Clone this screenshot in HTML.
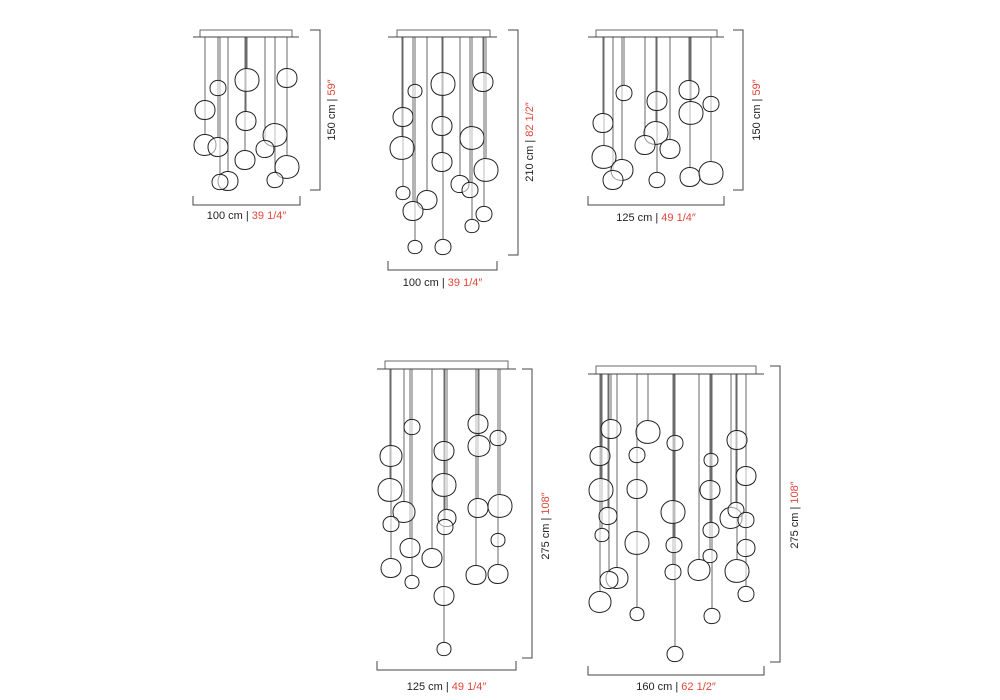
<!DOCTYPE html><html><head><style>
html,body{margin:0;padding:0;background:#fff;width:1000px;height:700px;overflow:hidden}
svg{display:block}
text{font-family:"Liberation Sans",sans-serif;font-size:11px;fill:#222}
.r{fill:#e0473a}
</style></head><body>
<svg id="s" width="1000" height="700" xmlns="http://www.w3.org/2000/svg"></svg>
<script>
var s=document.getElementById('s'),h='';
function fig(cx1,cx2,cy,px1,px2,py,bx,by1,by2,bb,lx1,lx2,ly,labH,labHr,vx,vy,vlab,vlabr,balls){
 h+='<rect x="'+cx1+'" y="'+cy+'" width="'+(cx2-cx1)+'" height="'+(py-cy)+'" fill="none" stroke="#444" stroke-width="0.8"/>';
 h+='<line x1="'+px1+'" y1="'+py+'" x2="'+px2+'" y2="'+py+'" stroke="#444" stroke-width="1"/>';
 var seen={};
 balls.forEach(function(b){
  var k=b[0];
  if(seen[k]!==undefined && seen[k]>=b[1]-b[2]) return;
  seen[k]=b[1]-b[2];
 });
 for(var k in seen){
  h+='<line x1="'+k+'" y1="'+py+'" x2="'+k+'" y2="'+seen[k]+'" stroke="#444" stroke-width="0.8"/>';
 }
 balls.forEach(function(b){
  var x=b[0],y=b[1],r=b[2],c=r*0.56;
  var rx=r*1.0,ry=r*0.95;
  h+='<path d="M'+(x-rx)+','+y+' C'+(x-rx)+','+(y-ry*0.6)+' '+(x-rx*0.5)+','+(y-ry*1.05)+' '+(x+rx*0.05)+','+(y-ry)+' C'+(x+rx*0.7)+','+(y-ry*0.95)+' '+(x+rx*1.02)+','+(y-ry*0.5)+' '+(x+rx)+','+(y+ry*0.05)+' C'+(x+rx*0.98)+','+(y+ry*0.7)+' '+(x+rx*0.5)+','+(y+ry)+' '+(x-rx*0.05)+','+(y+ry)+' C'+(x-rx*0.65)+','+(y+ry)+' '+(x-rx)+','+(y+ry*0.6)+' '+(x-rx)+','+y+' Z" fill="#fff" fill-opacity="0.55" stroke="#222" stroke-width="1"/>';
 });
 h+='<polyline points="'+(bx-10)+','+by1+' '+bx+','+by1+' '+bx+','+by2+' '+(bx-10)+','+by2+'" fill="none" stroke="#444" stroke-width="1"/>';
 h+='<polyline points="'+lx1+','+(bb-9)+' '+lx1+','+bb+' '+lx2+','+bb+' '+lx2+','+(bb-9)+'" fill="none" stroke="#444" stroke-width="1"/>';
 h+='<text x="'+((lx1+lx2)/2)+'" y="'+ly+'" text-anchor="middle">'+labH+' | <tspan class="r">'+labHr+'</tspan></text>';
 h+='<text transform="translate('+vx+','+vy+') rotate(-90)" text-anchor="middle">'+vlab+' | <tspan class="r">'+vlabr+'</tspan></text>';
}
fig(200,292,30,193,299,37,320,30,190,205,193,300,219,'100 cm','39 1/4″',335,110,'150 cm','59″',
[[218,88,8],[247,80,12],[287,78,10],[205,110,10],[246,121,10],[205,145,11],[218,147,10],[275,135,12],[265,149,9],[245,160,10],[287,167,12],[228,181,10],[220,182,8],[275,180,8]]);
fig(397,490,30,388,497,37,518,30,255,270,388,497,286,'100 cm','39 1/4″',533,142,'210 cm','82 1/2″',
[[415,91,7],[443,84,12],[483,82,10],[403,117,10],[442,126,10],[402,148,12],[472,138,12],[442,162,10],[486,170,12],[460,184,9],[403,193,7],[427,200,10],[413,211,10],[470,190,8],[484,214,8],[472,226,7],[415,247,7],[443,247,8]]);
fig(596,717,30,588,724,37,743,30,190,205,588,724,221,'125 cm','49 1/4″',760,110,'150 cm','59″',
[[624,93,8],[657,101,10],[689,90,10],[711,104,8],[603,123,10],[691,113,12],[656,133,12],[604,157,12],[645,145,10],[670,149,10],[622,170,11],[613,180,10],[657,180,8],[690,177,10],[711,173,12]]);
fig(385,508,361,377,516,369,532,369,658,670,377,516,690,'125 cm','49 1/4″',549,526,'275 cm','108″',
[[412,427,8],[478,424,10],[498,438,8],[391,456,11],[444,451,10],[479,446,11],[390,490,12],[444,485,12],[478,508,10],[500,506,12],[404,512,11],[447,518,9],[391,524,8],[410,548,10],[432,558,10],[445,527,8],[498,540,7],[391,568,10],[412,582,7],[476,575,10],[498,574,10],[444,596,10],[444,649,7]]);
fig(596,756,366,588,764,374,780,366,662,675,588,764,690,'160 cm','62 1/2″',798,515,'275 cm','108″',
[[611,429,10],[648,432,12],[675,443,8],[737,440,10],[600,456,10],[637,455,8],[711,460,7],[746,476,10],[601,490,12],[637,489,10],[710,490,10],[673,512,12],[608,516,9],[731,518,11],[736,510,8],[746,520,8],[602,535,7],[637,543,12],[711,530,8],[674,545,8],[746,548,9],[617,578,11],[609,580,9],[699,570,11],[737,571,12],[710,556,7],[673,572,8],[600,602,11],[746,594,8],[637,614,7],[712,616,8],[675,654,8]]);
s.innerHTML=h;
</script>
</body></html>
